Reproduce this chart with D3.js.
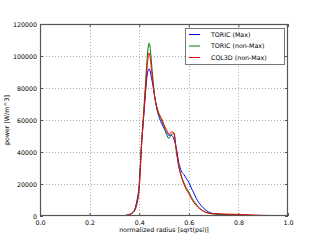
<!DOCTYPE html>
<html><head><meta charset="utf-8">
<script src="https://cdn.jsdelivr.net/npm/d3@7"></script>
<style>body{margin:0;background:#fff}svg{display:block}text{font-family:"DejaVu Sans",sans-serif;fill:#000}</style>
</head><body><svg id="c" width="320" height="240"></svg>
<script>
const radius = [0,0.30,0.34,0.36,0.38,0.39,0.40,0.405,0.41,0.415,0.42,0.425,0.43,0.435,0.44,0.445,0.45,0.455,0.46,0.47,0.48,0.49,0.50,0.51,0.52,0.53,0.54,0.55,0.56,0.57,0.58,0.59,0.60,0.61,0.62,0.63,0.64,0.66,0.68,0.70,0.75,0.80,0.85,0.90,0.95,1.0];
const toricMax =    [0,0,300,1000,3500,9000,20000,33000,46000,56000,66000,76000,85000,90500,92000,90000,86000,82000,77000,68000,62000,58000,55000,52000,50500,50500,48000,42000,33000,28000,26000,23500,21000,17500,14500,11000,8500,4800,2500,1500,900,600,300,100,0,0];
const toricNonMax = [0,0,200,800,3000,7000,18000,32000,48000,58000,70000,82000,94000,104000,108000,104000,95000,86000,78000,68000,63000,60000,56000,51000,48500,51000,51500,40000,31000,25000,21000,17500,15000,12000,9500,7500,5500,3000,1800,1300,900,700,400,200,100,0];
const cql3d =       [0,0,200,900,3200,8000,17000,30000,45000,56000,67000,78000,89000,98000,102000,98000,91000,84000,77000,69000,64000,61000,57000,54000,51000,52500,52000,41000,30500,24500,20000,16500,14000,11000,8500,6500,5000,2800,1800,1400,1200,1000,700,400,200,0];
const seriesNames = ["TORIC (Max)","TORIC (non-Max)","CQL3D (non-Max)"];
const seriesColors = ["#0000ff","#008000","#ff0000"];
const xTicks = [0,0.2,0.4,0.6,0.8,1.0];
const yTicks = [0,20000,40000,60000,80000,100000,120000];

const svg = d3.select("#c");
const L=40,T=24,R=288,B=216;
const x = d3.scaleLinear().domain([0,1]).range([L,R]);
const y = d3.scaleLinear().domain([0,120000]).range([B,T]);

// grid
const g = svg.append("g");
g.selectAll(".gx").data(xTicks.slice(1,-1)).enter().append("line")
 .attr("x1",d=>Math.round(x(d))+0.5).attr("x2",d=>Math.round(x(d))+0.5).attr("y1",T).attr("y2",B)
 .attr("stroke","#999").attr("stroke-width",0.8).attr("stroke-dasharray","1,2");
g.selectAll(".gy").data(yTicks.slice(1,-1)).enter().append("line")
 .attr("y1",d=>Math.round(y(d))+0.5).attr("y2",d=>Math.round(y(d))+0.5).attr("x1",L).attr("x2",R)
 .attr("stroke","#999").attr("stroke-width",0.8).attr("stroke-dasharray","1,2");

svg.append("defs").append("clipPath").attr("id","clip").append("rect")
 .attr("x",L).attr("y",T).attr("width",R-L).attr("height",B-T);

const data = [toricMax,toricNonMax,cql3d];
const line = d3.line().x((d,i)=>x(radius[i])).y(d=>y(d)).curve(d3.curveMonotoneX);
const order=[0,1,2];
order.forEach(k=>{
  svg.append("path").datum(data[k]).attr("d",line).attr("fill","none")
   .attr("stroke",seriesColors[k]).attr("stroke-width",1).attr("clip-path","url(#clip)");
});

// frame
svg.append("rect").attr("x",L+0.5).attr("y",T+0.5).attr("width",R-L-1).attr("height",B-T-1)
 .attr("fill","none").attr("stroke","#555").attr("stroke-width",1.2);

// axes with inward ticks
const fs=6.3;
const ax=svg.append("g").attr("transform",`translate(0,${B})`)
 .call(d3.axisBottom(x).tickValues(xTicks).tickFormat(d3.format(".1f")).tickSizeInner(-3).tickSizeOuter(0).tickPadding(5));
const ax2=svg.append("g").attr("transform",`translate(0,${T})`)
 .call(d3.axisTop(x).tickValues(xTicks).tickFormat("").tickSizeInner(-3).tickSizeOuter(0));
const ay=svg.append("g").attr("transform",`translate(${L},0)`)
 .call(d3.axisLeft(y).tickValues(yTicks).tickFormat(d3.format("d")).tickSizeInner(-3).tickSizeOuter(0).tickPadding(3));
const ay2=svg.append("g").attr("transform",`translate(${R},0)`)
 .call(d3.axisRight(y).tickValues(yTicks).tickFormat("").tickSizeInner(-3).tickSizeOuter(0));
[ax,ax2,ay,ay2].forEach(a=>{a.select(".domain").remove();a.selectAll("line").attr("stroke","#555");
 a.selectAll("text").attr("font-size",fs).attr("font-family","DejaVu Sans");});

svg.append("text").attr("x",(L+R)/2).attr("y",232).attr("text-anchor","middle").attr("font-size",fs)
 .text("normalized radius [sqrt(psi)]");
svg.append("text").attr("transform",`translate(9,${(T+B)/2}) rotate(-90)`).attr("text-anchor","middle").attr("font-size",fs)
 .text("power [W/m^3]");

// legend
const lg=svg.append("g");
lg.append("rect").attr("x",185.5).attr("y",28.5).attr("width",99).attr("height",36)
 .attr("fill","#fff").attr("stroke","#777").attr("stroke-width",1);
seriesNames.forEach((n,i)=>{
  const yy=34.5+i*11.5;
  lg.append("line").attr("x1",189).attr("x2",200).attr("y1",yy).attr("y2",yy).attr("stroke",seriesColors[i]).attr("stroke-width",1);
  lg.append("text").attr("x",211).attr("y",yy+2.3).attr("font-size",fs).text(n);
});
</script></body></html>
